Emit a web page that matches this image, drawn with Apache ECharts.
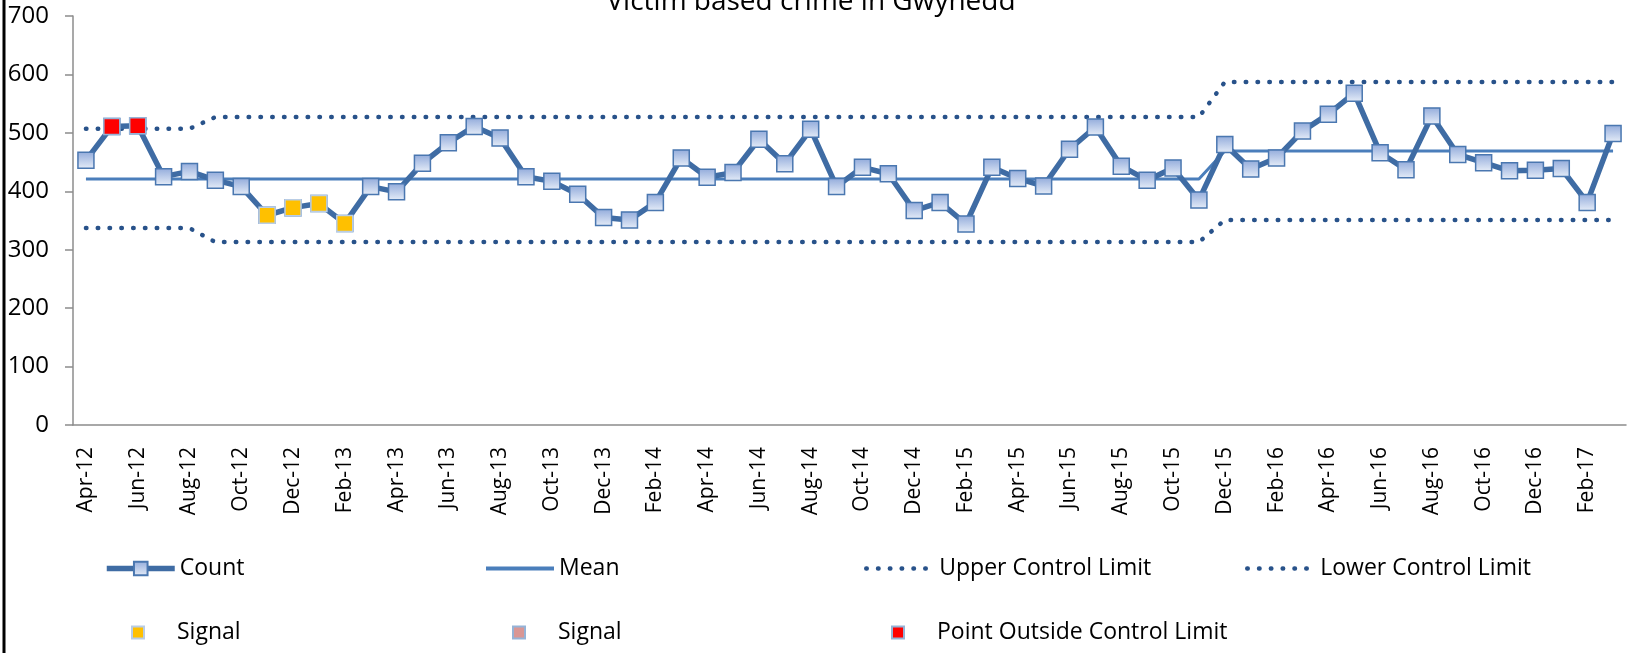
<!DOCTYPE html>
<html>
<head>
<meta charset="utf-8">
<script src="https://cdn.jsdelivr.net/npm/echarts@6/dist/echarts.min.js"></script>
<style>
  html, body { margin: 0; padding: 0; background: #fff; }
  #chart { width: 1633px; height: 653px; }
</style>
</head>
<body>
<div id="chart"></div>
<script>
var months = ['Apr-12','May-12','Jun-12','Jul-12','Aug-12','Sep-12','Oct-12','Nov-12','Dec-12','Jan-13','Feb-13','Mar-13',
  'Apr-13','May-13','Jun-13','Jul-13','Aug-13','Sep-13','Oct-13','Nov-13','Dec-13','Jan-14','Feb-14','Mar-14',
  'Apr-14','May-14','Jun-14','Jul-14','Aug-14','Sep-14','Oct-14','Nov-14','Dec-14','Jan-15','Feb-15','Mar-15',
  'Apr-15','May-15','Jun-15','Jul-15','Aug-15','Sep-15','Oct-15','Nov-15','Dec-15','Jan-16','Feb-16','Mar-16',
  'Apr-16','May-16','Jun-16','Jul-16','Aug-16','Sep-16','Oct-16','Nov-16','Dec-16','Jan-17','Feb-17','Mar-17'];

var count = [453,511,512,425,434,419,408,359,372,379,345,408,
  399,448,483,511,491,425,417,395,355,351,381,457,
  424,432,489,447,506,408,441,430,367,381,344,441,
  422,409,472,510,443,419,440,385,480,438,457,503,
  532,568,466,437,529,463,449,435,436,439,381,499];

// mean and control limits, per period
var mean = [421,421,421,421,421,421,421,421,421,421,421,421,
  421,421,421,421,421,421,421,421,421,421,421,421,
  421,421,421,421,421,421,421,421,421,421,421,421,
  421,421,421,421,421,421,421,421,469,469,469,469,
  469,469,469,469,469,469,469,469,469,469,469,469];
var ucl = [507,507,507,507,507,527,527,527,527,527,527,527,
  527,527,527,527,527,527,527,527,527,527,527,527,
  527,527,527,527,527,527,527,527,527,527,527,527,
  527,527,527,527,527,527,527,527,587,587,587,587,
  587,587,587,587,587,587,587,587,587,587,587,587];
var lcl = [337,337,337,337,337,313,313,313,313,313,313,313,
  313,313,313,313,313,313,313,313,313,313,313,313,
  313,313,313,313,313,313,313,313,313,313,313,313,
  313,313,313,313,313,313,313,313,351,351,351,351,
  351,351,351,351,351,351,351,351,351,351,351,351];

// flagged points
var signalRun = ['-','-','-','-','-','-','-',359,372,379,345];
var signalTrend = [];
var outside = ['-',511,512];

var yTicks = [0, 100, 200, 300, 400, 500, 600, 700];

var chart = echarts.init(document.getElementById('chart'));

var font = 'Open Sans';
var markerFill = new echarts.graphic.LinearGradient(0, 0, 0, 1, [
  { offset: 0, color: '#92abdb' },
  { offset: 1, color: '#e6edf8' }
]);
var dots = { width: 4.5, type: [0.5, 11.3], cap: 'round', color: '#28528a' };

function legendAt(item, left, top, h, label) {
  return {
    data: [item], left: left, top: top, padding: 0,
    itemWidth: 68, itemHeight: h,
    formatter: label ? function () { return label; } : undefined,
    textStyle: { fontFamily: font, fontSize: 23, color: '#000' },
    selectedMode: false
  };
}
var noMark = { opacity: 0, borderWidth: 0 };

chart.setOption({
  animation: false,
  title: {
    text: 'Victim based crime in Gwynedd',
    left: 806, textAlign: 'center', top: -17,
    textStyle: { fontFamily: font, fontSize: 28, fontWeight: 'normal', color: '#000' }
  },
  graphic: [{
    type: 'line', shape: { x1: 4, y1: 0, x2: 4, y2: 653 },
    style: { stroke: '#000', lineWidth: 3 }
  }],
  legend: [
    legendAt({ name: 'Count', lineStyle: { width: 5.5 } }, 104, 557, 17),
    legendAt({ name: 'Mean', lineStyle: { width: 4 }, itemStyle: noMark }, 484, 557, 16),
    legendAt({ name: 'Upper Control Limit', lineStyle: dots, itemStyle: noMark }, 864, 557, 16),
    legendAt({ name: 'Lower Control Limit', lineStyle: dots, itemStyle: noMark }, 1245, 557, 16),
    legendAt('Signal', 104, 621, 15),
    legendAt('Signal ', 485, 621, 15, 'Signal'),
    legendAt('Point Outside Control Limit', 864, 621, 15)
  ],
  grid: { left: 73, right: 7, top: 16, bottom: 228, containLabel: false },
  xAxis: {
    type: 'category',
    data: months,
    boundaryGap: true,
    axisLine: { lineStyle: { color: '#8c8c8c', width: 1.5 } },
    axisTick: { show: false },
    axisLabel: {
      interval: 1, rotate: 90, margin: 22,
      fontFamily: font, fontSize: 21, color: '#000'
    }
  },
  yAxis: {
    type: 'value',
    min: yTicks[0], max: yTicks[yTicks.length - 1], interval: 100,
    axisLine: { show: true, lineStyle: { color: '#8c8c8c', width: 1.5 } },
    axisTick: { show: true, length: 8, lineStyle: { color: '#8c8c8c', width: 1.5 } },
    splitLine: { show: false },
    axisLabel: { margin: 24, fontFamily: font, fontSize: 24, color: '#000' }
  },
  series: [
    {
      name: 'Count', type: 'line', data: count,
      symbol: 'rect', symbolSize: 16, showAllSymbol: true,
      lineStyle: { color: '#3f6ca4', width: 5.5 },
      itemStyle: { color: markerFill, borderColor: '#4a77b0', borderWidth: 1.5 },
      z: 3
    },
    {
      name: 'Mean', type: 'line', data: mean, symbol: 'none',
      lineStyle: { color: '#4a7ebb', width: 3 }, itemStyle: { color: '#4a7ebb' }, z: 2
    },
    {
      name: 'Upper Control Limit', type: 'line', data: ucl, symbol: 'none',
      lineStyle: dots, itemStyle: { color: '#28528a' }, z: 2
    },
    {
      name: 'Lower Control Limit', type: 'line', data: lcl, symbol: 'none',
      lineStyle: dots, itemStyle: { color: '#28528a' }, z: 2
    },
    {
      name: 'Signal', type: 'line', data: signalRun,
      symbol: 'rect', symbolSize: 16, showAllSymbol: true,
      lineStyle: { width: 0, opacity: 0 },
      itemStyle: { color: '#ffc000', borderColor: '#b9cde5', borderWidth: 1.5 },
      z: 4
    },
    {
      name: 'Signal ', type: 'line', data: signalTrend,
      symbol: 'rect', symbolSize: 16, showAllSymbol: true,
      lineStyle: { width: 0, opacity: 0 },
      itemStyle: { color: '#d99694', borderColor: '#95b3d7', borderWidth: 1.5 },
      z: 4
    },
    {
      name: 'Point Outside Control Limit', type: 'line', data: outside,
      symbol: 'rect', symbolSize: 16, showAllSymbol: true,
      lineStyle: { width: 0, opacity: 0 },
      itemStyle: { color: '#ff0000', borderColor: '#95b3d7', borderWidth: 1.5 },
      z: 4
    }
  ]
});
</script>
</body>
</html>
